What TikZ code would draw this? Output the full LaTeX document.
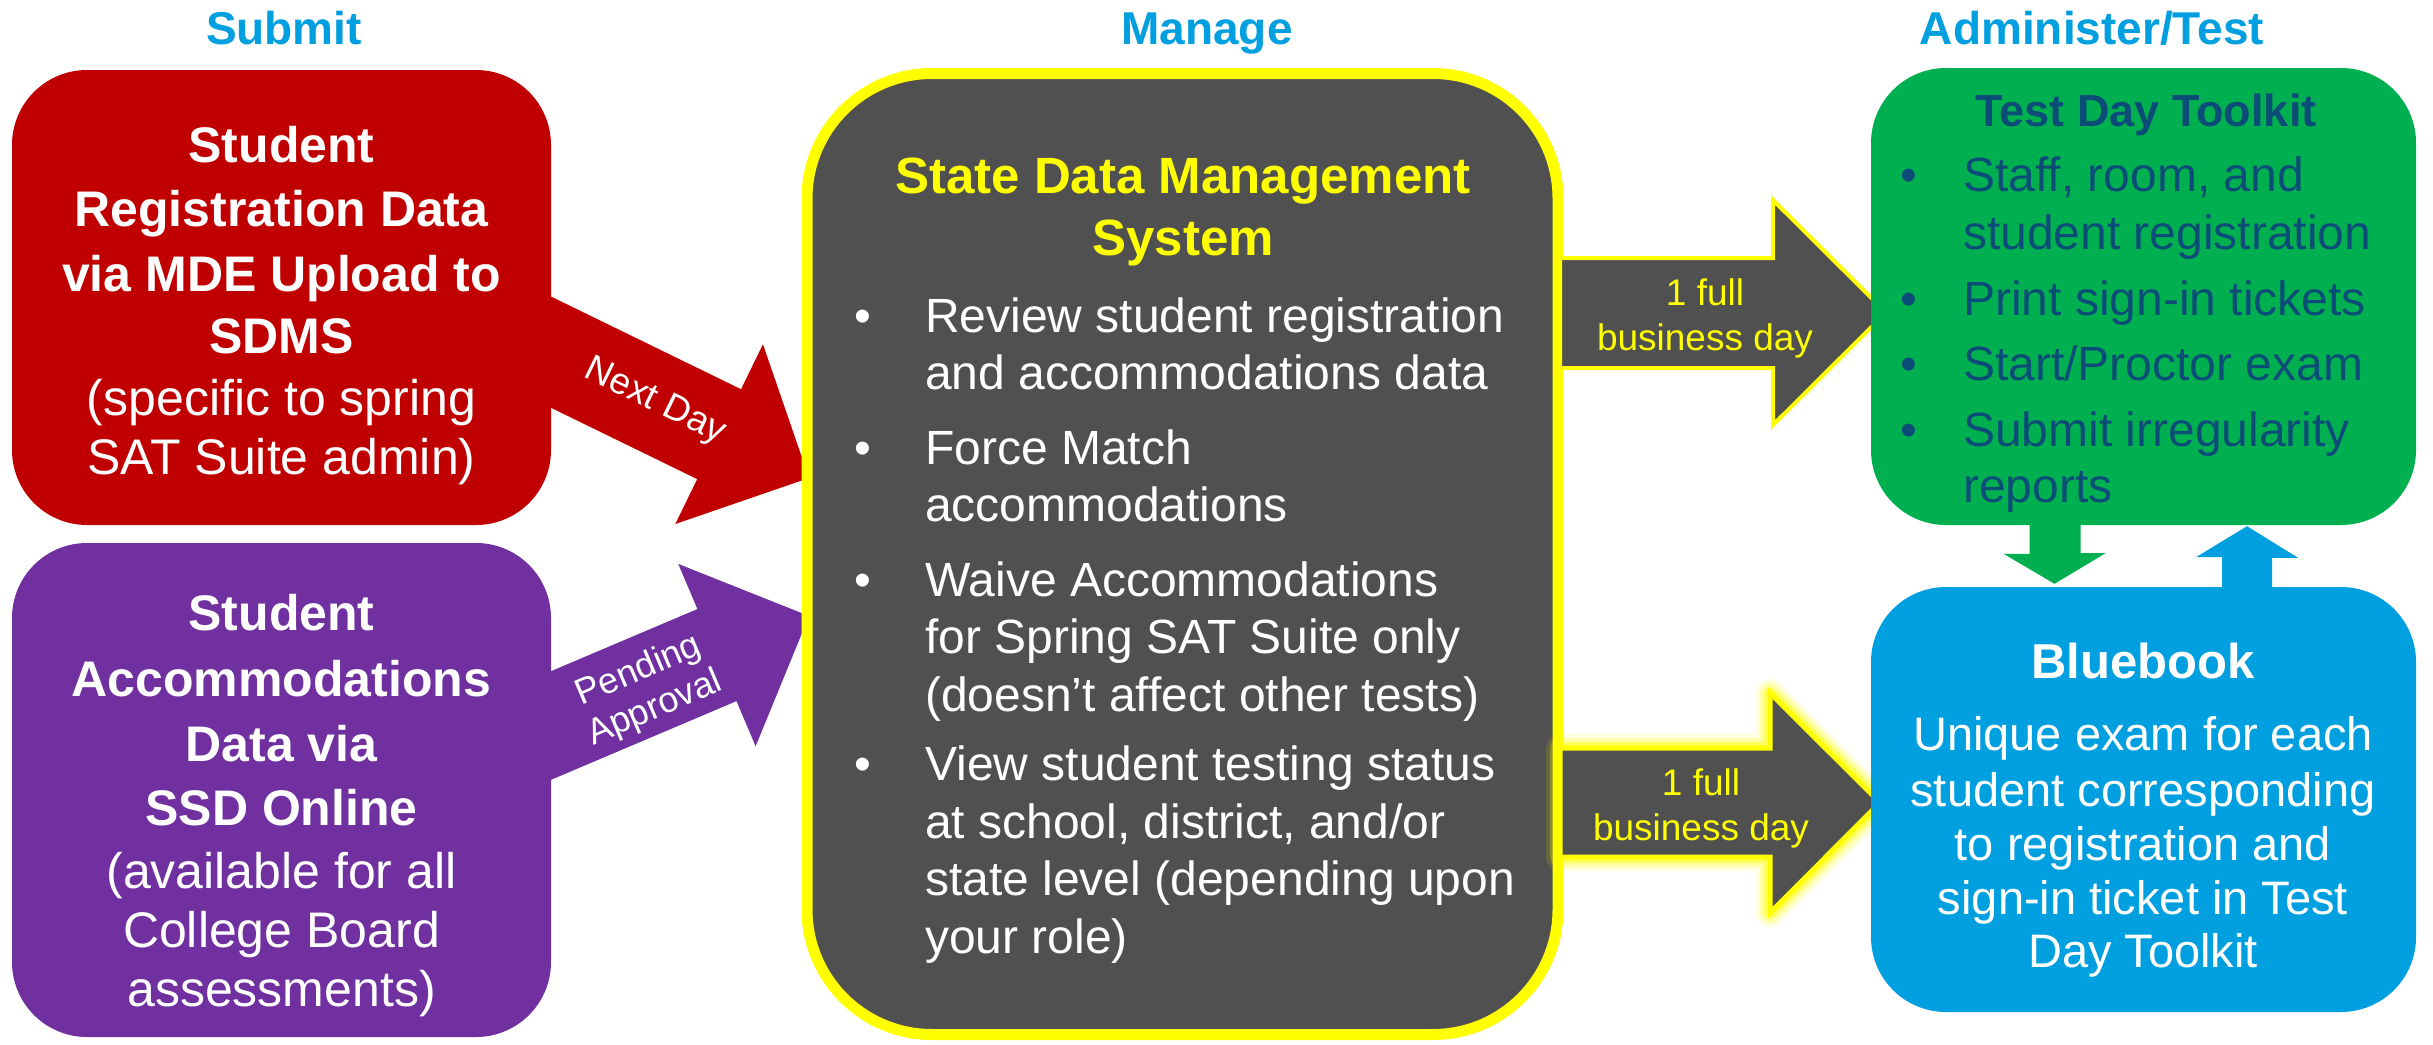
\documentclass[tikz,border=0pt]{standalone}
\usepackage{fontspec}
\setmainfont{Liberation Sans}
\usetikzlibrary{calc}

\definecolor{regred}{HTML}{C00000}
\definecolor{accpurple}{HTML}{7030A0}
\definecolor{sdmsgray}{HTML}{505050}
\definecolor{hiyellow}{HTML}{FFFF00}
\definecolor{tdtgreen}{HTML}{00B050}
\definecolor{bbblue}{HTML}{009FDF}
\definecolor{tdtnavy}{HTML}{0B4D77}

\newcommand\fs[2]{\fontsize{#1}{#2}\selectfont}

\begin{document}
\begin{tikzpicture}[x=1pt,y=-1pt,
    flowbox/.style={rectangle,rounded corners=75pt,inner sep=0pt,draw=none},
    txtline/.style={anchor=base,inner sep=0pt,text=white},
    dayarrow/.style={fill=sdmsgray,draw=hiyellow,line join=miter},
    daytext/.style={anchor=base,inner sep=0pt,text=hiyellow,font=\fs{37}{45}}]

  %%%% Page and background %%%%
  \useasboundingbox (0,0) rectangle (2433,1044);
  \fill[white] (0,0) rectangle (2433,1044);

  %% Block arrows from the left boxes (drawn first, the boxes hide their tails)
  \coordinate (nexttip) at (809,478);
  \coordinate (pendtip) at (809,616);
  \begin{scope}[shift={(nexttip)},rotate=-26]
    \fill[regred] (0,0) -- (-100,-100) -- (-100,-50) -- (-330,-50) -- (-330,50) -- (-100,50) -- (-100,100) -- cycle;
  \end{scope}
  \begin{scope}[shift={(pendtip)},rotate=23]
    \fill[accpurple] (0,0) -- (-100,-99) -- (-100,-50) -- (-330,-50) -- (-330,50) -- (-100,50) -- (-100,99) -- cycle;
  \end{scope}

  %% Submit boxes
  \node[flowbox,fill=regred,minimum width=539pt,minimum height=455pt] (reg) at (281.5,297.5) {};
  \node[flowbox,fill=accpurple,minimum width=539pt,minimum height=494pt] (acc) at (281.5,790) {};

  %% Labels on the block arrows
  \node[text=white,rotate=-26,font=\fs{37}{42}] (nextday) at (655,402) {Next Day};
  \node[text=white,rotate=23,align=center,font=\fs{36}{41}] (pending) at (647,690) {Pending\\Approval};

  %% Manage box
  \node[flowbox,fill=sdmsgray,draw=hiyellow,line width=11pt,rounded corners=125pt,
        minimum width=751pt,minimum height=961pt] (sdms) at (1182.5,554) {};

  %% Business day arrows (bottom one glows)
  \draw[dayarrow,line width=4pt] (1560,258) -- (1773,258) -- (1773,200) -- (1886,312.5)
    -- (1773,425) -- (1773,368) -- (1560,368) -- cycle;
  \foreach \w/\o in {28/.12,20/.25,12/.45}{
    \draw[hiyellow,line width=\w pt,opacity=\o,line join=round] (1560,748) -- (1770,748) -- (1770,693)
      -- (1880,802.5) -- (1770,913) -- (1770,857) -- (1560,857) -- cycle;
  }
  \draw[dayarrow,line width=5pt] (1560,748) -- (1770,748) -- (1770,693) -- (1880,802.5)
    -- (1770,913) -- (1770,857) -- (1560,857) -- cycle;
  \node[daytext] (dayA1) at (1705,305) {1 full};
  \node[daytext] (dayA2) at (1705,350) {business day};
  \node[daytext] (dayB1) at (1701,795) {1 full};
  \node[daytext] (dayB2) at (1701,840) {business day};

  %% Administer/Test boxes
  \node[flowbox,fill=tdtgreen,minimum width=545pt,minimum height=457pt] (tdt) at (2143.5,296.5) {};
  \node[flowbox,fill=bbblue,minimum width=545pt,minimum height=425pt] (bb) at (2143.5,799.5) {};

  %% Small arrows between Test Day Toolkit and Bluebook
  \fill[tdtgreen] ($(tdt.south)+(-114,-6)$) -- ++(51,0) -- ++(0,34) -- ++(25,0)
    -- ($(bb.north)+(-89,-3)$) -- ++(-51,-30) -- ++(26,0) -- cycle;
  \fill[bbblue] ($(bb.north)+(78.5,4)$) -- ++(50,0) -- ++(0,-33) -- ++(26,0)
    -- ($(tdt.south)+(103.5,1)$) -- ++(-51,31) -- ++(26,0) -- cycle;

  %% Column titles
  \foreach \x/\t [count=\i] in {284/Submit,1207/Manage,2092/{Administer/Test}}{
    \node[anchor=base,inner sep=0pt,text=bbblue,font=\fs{46}{55}\bfseries] (head\i) at (\x,44) {\t};
  }

  %% Text of the Submit boxes
  \foreach \y/\t [count=\i] in {162/{\bfseries Student},226/{\bfseries Registration Data},
      291/{\bfseries via MDE Upload to},353/{\bfseries SDMS},415/{(specific to spring},474/{SAT Suite admin)}}{
    \node[txtline,font=\fs{50}{60}] (reg\i) at (281.5,\y) {\t};
  }
  \foreach \y/\t [count=\i] in {630/{\bfseries Student},696/{\bfseries Accommodations},761/{\bfseries Data via},
      825/{\bfseries SSD Online},888/{(available for all},947/{College Board},1006/{assessments)}}{
    \node[txtline,font=\fs{50}{60}] (acc\i) at (281.5,\y) {\t};
  }

  %% Text of the Manage box
  \node[txtline,text=hiyellow,font=\fs{51}{62}\bfseries] (sdmsA) at (1183,193) {State Data Management};
  \node[txtline,text=hiyellow,font=\fs{51}{62}\bfseries] (sdmsB) at (1183,255) {System};
  \foreach \y/\b/\t [count=\i] in {332/1/{Review student registration},389/0/{and accommodations data},
      464/1/{Force Match},521/0/{accommodations},
      596/1/{Waive Accommodations},653/0/{for Spring SAT Suite only},711/0/{(doesn’t affect other tests)},
      780/1/{View student testing status},838/0/{at school, district, and/or},895/0/{state level (depending upon},953/0/{your role)}}{
    \node[txtline,anchor=base west,font=\fs{48}{57}] (sd\i) at (925,\y) {\t};
    \ifnum\b=1 \node[txtline,font=\fs{48}{57}] (sdb\i) at (863,\y) {•};\fi
  }

  %% Text of the Test Day Toolkit box
  \node[txtline,text=tdtnavy,font=\fs{45}{54}\bfseries] (tdtA) at (2146,126) {Test Day Toolkit};
  \foreach \y/\b/\t [count=\i] in {191/1/{Staff, room, and},249/0/{student registration},315/1/{Print sign-in tickets},
      380/1/{Start/Proctor exam},446/1/{Submit irregularity},502/0/{reports}}{
    \node[txtline,anchor=base west,text=tdtnavy,font=\fs{48}{57}] (tdt\i) at (1963,\y) {\t};
    \ifnum\b=1 \node[txtline,text=tdtnavy,font=\fs{48}{57}] (tdtb\i) at (1909,\y) {•};\fi
  }

  %% Text of the Bluebook box
  \node[txtline,font=\fs{49}{58}\bfseries] (bbA) at (2143,678) {Bluebook};
  \foreach \y/\t [count=\i] in {750/{Unique exam for each},806/{student corresponding},860/{to registration and},
      914/{sign-in ticket in Test},967/{Day Toolkit}}{
    \node[txtline,font=\fs{47}{54}] (bb\i) at (2143,\y) {\t};
  }

\end{tikzpicture}
\end{document}
